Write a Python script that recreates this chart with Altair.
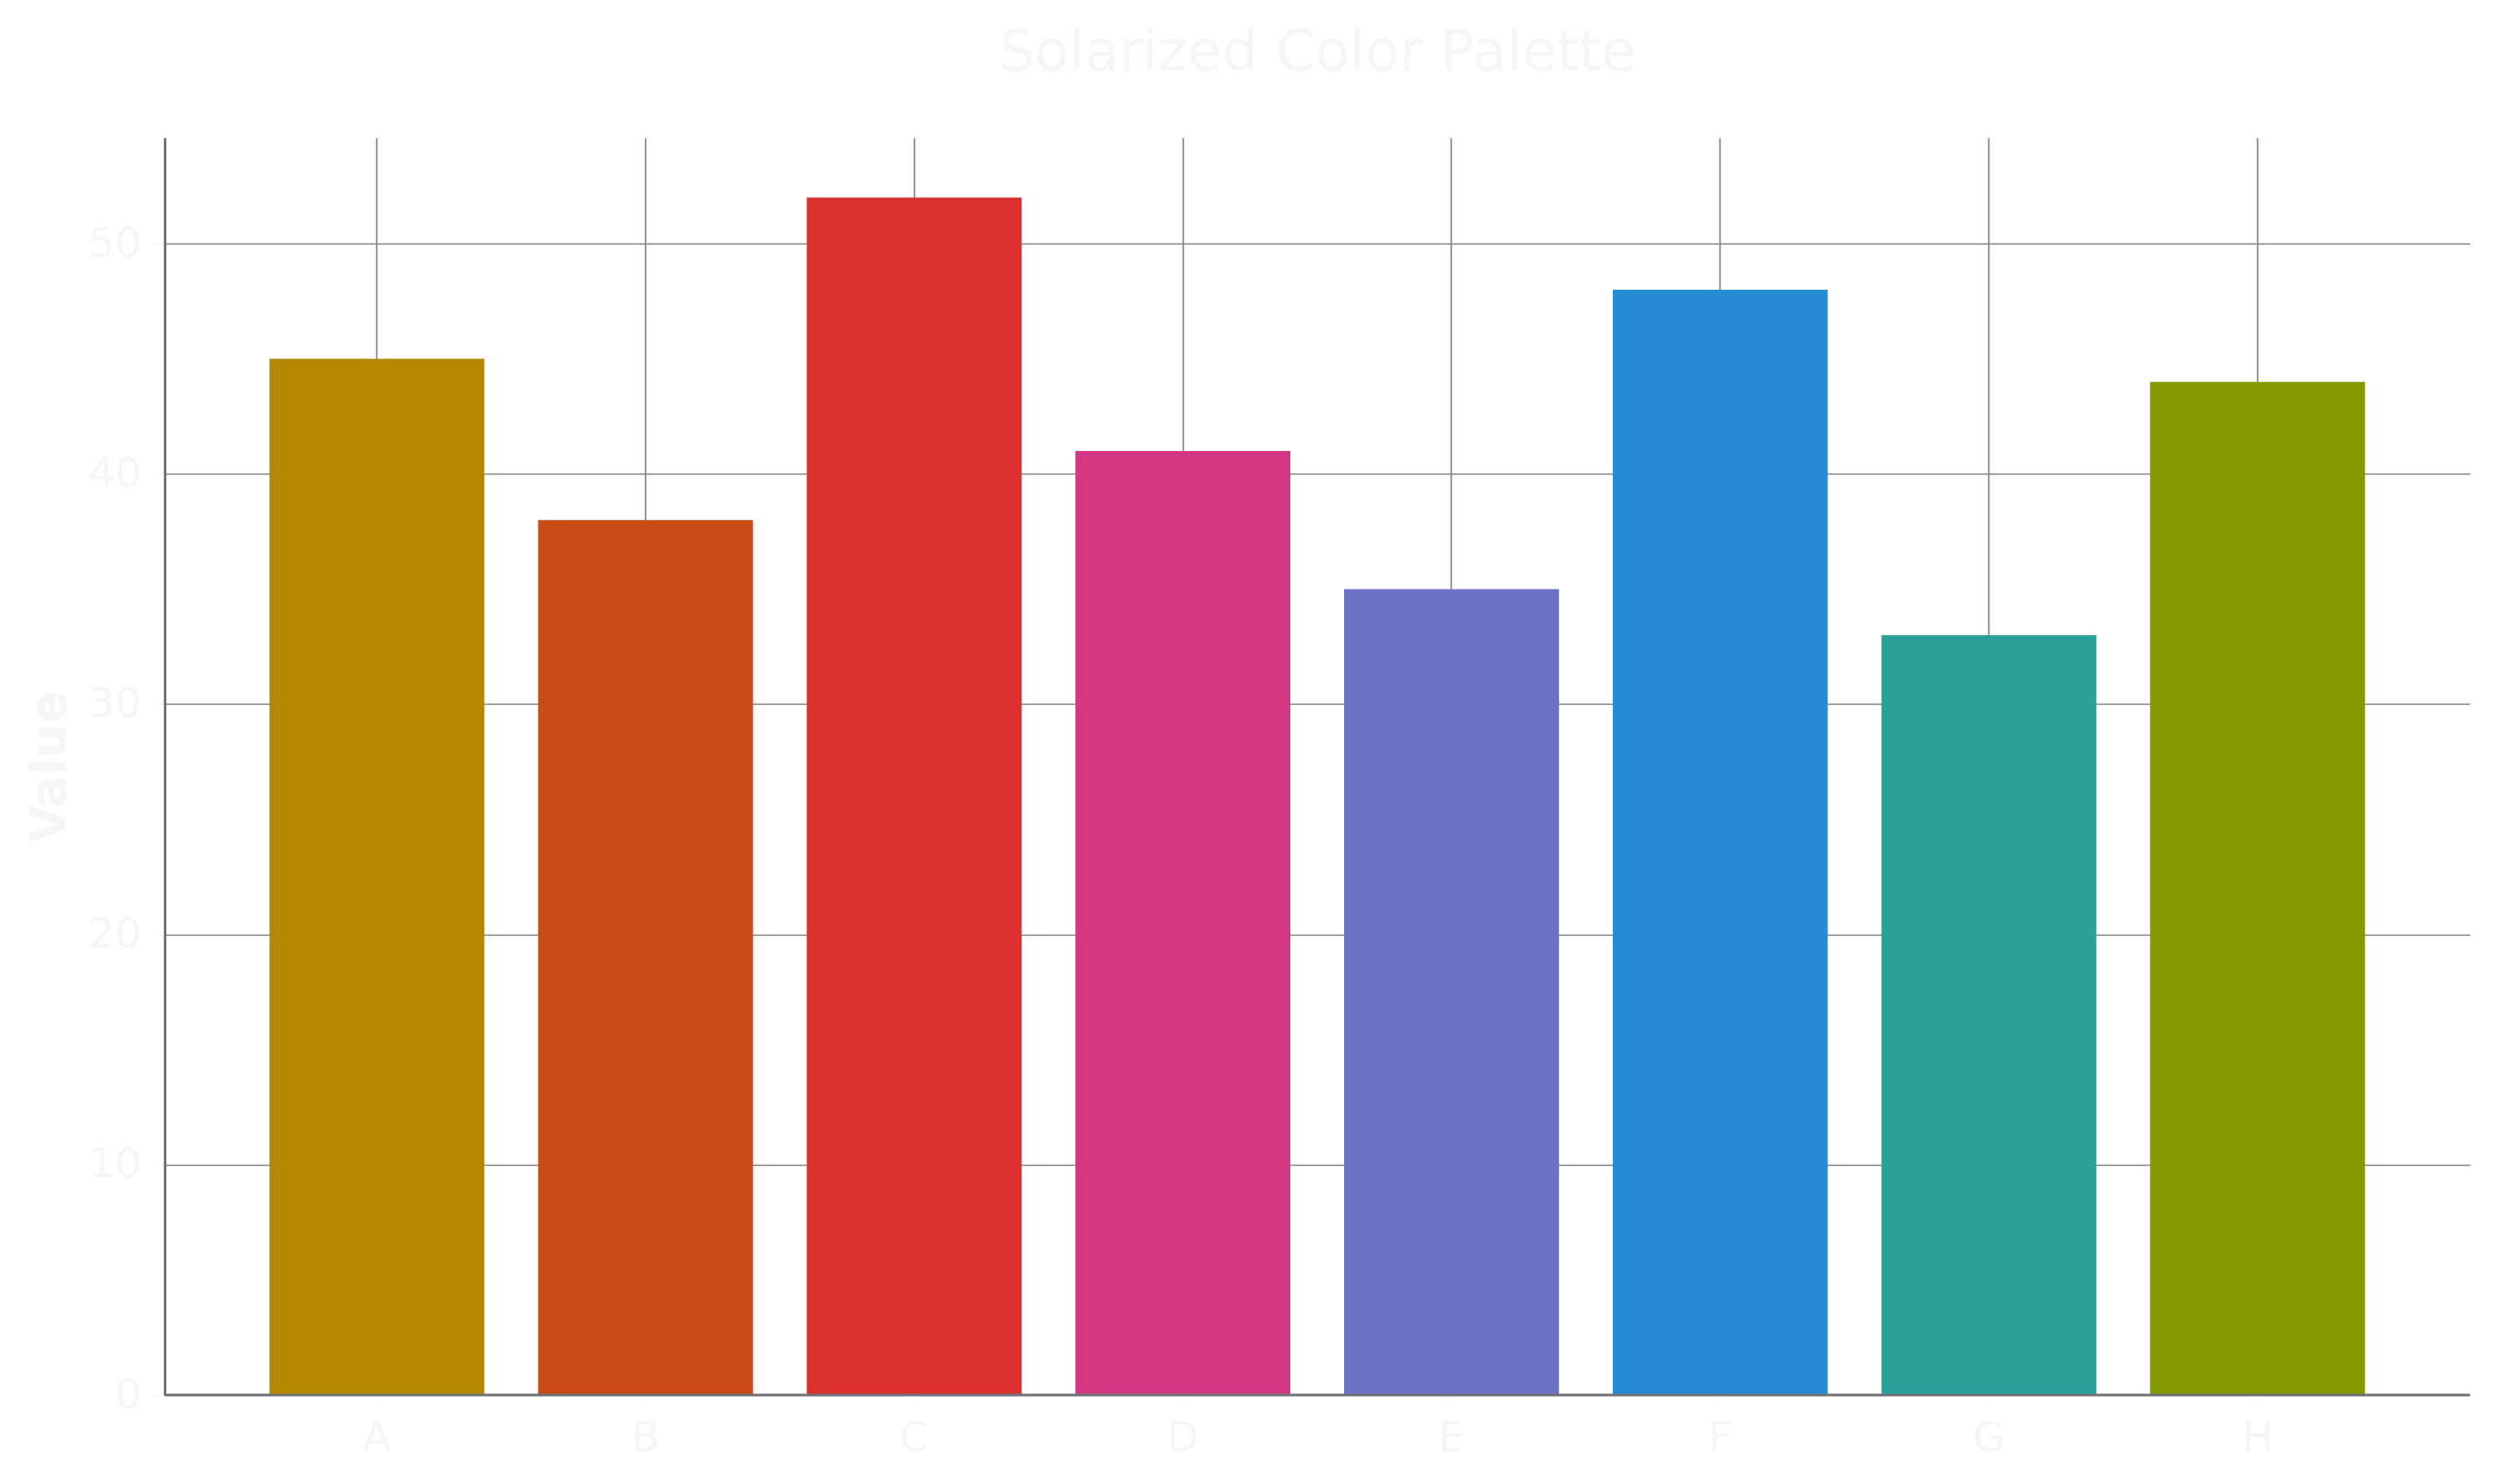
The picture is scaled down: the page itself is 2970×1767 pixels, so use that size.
import altair as alt
import pandas as pd

categories = ["A", "B", "C", "D", "E", "F", "G", "H"]
values = [45, 38, 52, 41, 35, 48, 33, 44]
colors = ["#b58900", "#cb4b16", "#dc322f", "#d33682", "#6c71c4", "#268bd2", "#2aa198", "#859900"]
y_ticks = [0, 10, 20, 30, 40, 50]

df = pd.DataFrame({"category": categories, "value": values})

FONT = "DejaVu Sans"
TEXT = "#f6f6f6"
GRID = "#7c7c7c"
SPINE = "#707078"

bars = alt.Chart(df).mark_bar().encode(
    x=alt.X(
        "category:N",
        sort=categories,
        title=None,
        scale=alt.Scale(paddingInner=0.2, paddingOuter=0.39),
        axis=alt.Axis(
            labelAngle=0,
            grid=True,
            gridColor=GRID,
            gridWidth=1.7,
            domain=False,
            bandPosition=0.5,
            ticks=True,
            tickColor=TEXT,
            tickSize=13,
            tickWidth=1.6,
            labelFont=FONT,
            labelFontSize=50,
            labelColor=TEXT,
            labelPadding=13,
        ),
    ),
    y=alt.Y(
        "value:Q",
        title="Value",
        scale=alt.Scale(domain=[0, 54.6], nice=False, zero=True),
        axis=alt.Axis(
            values=y_ticks,
            grid=True,
            gridColor=GRID,
            gridWidth=1.7,
            domain=True,
            domainColor=SPINE,
            domainWidth=3,
            tickColor=TEXT,
            tickSize=13,
            tickWidth=1.6,
            labelFont=FONT,
            labelFontSize=50,
            labelColor=TEXT,
            labelPadding=15,
            titleFont=FONT,
            titleFontSize=58,
            titleFontWeight="bold",
            titleColor=TEXT,
            titlePadding=15,
        ),
    ),
    color=alt.Color("category:N", scale=alt.Scale(domain=categories, range=colors), legend=None),
)

baseline = alt.Chart(pd.DataFrame({"k": [0]})).mark_rule(color=SPINE, strokeWidth=3).encode(
    y=alt.datum(0)
)

chart = alt.layer(bars, baseline).properties(
    width=2744,
    height=1497,
    title=alt.TitleParams(
        "Solarized Color Palette",
        font=FONT,
        fontSize=67,
        fontWeight="normal",
        color=TEXT,
        anchor="middle",
        offset=66,
    ),
    autosize=alt.AutoSizeParams(type="none"),
    padding={"left": 188, "top": 156, "right": 22, "bottom": 98},
).configure(background="white").configure_view(stroke=None)

chart.save("out.html", embed_options={"renderer": "svg", "actions": False})
